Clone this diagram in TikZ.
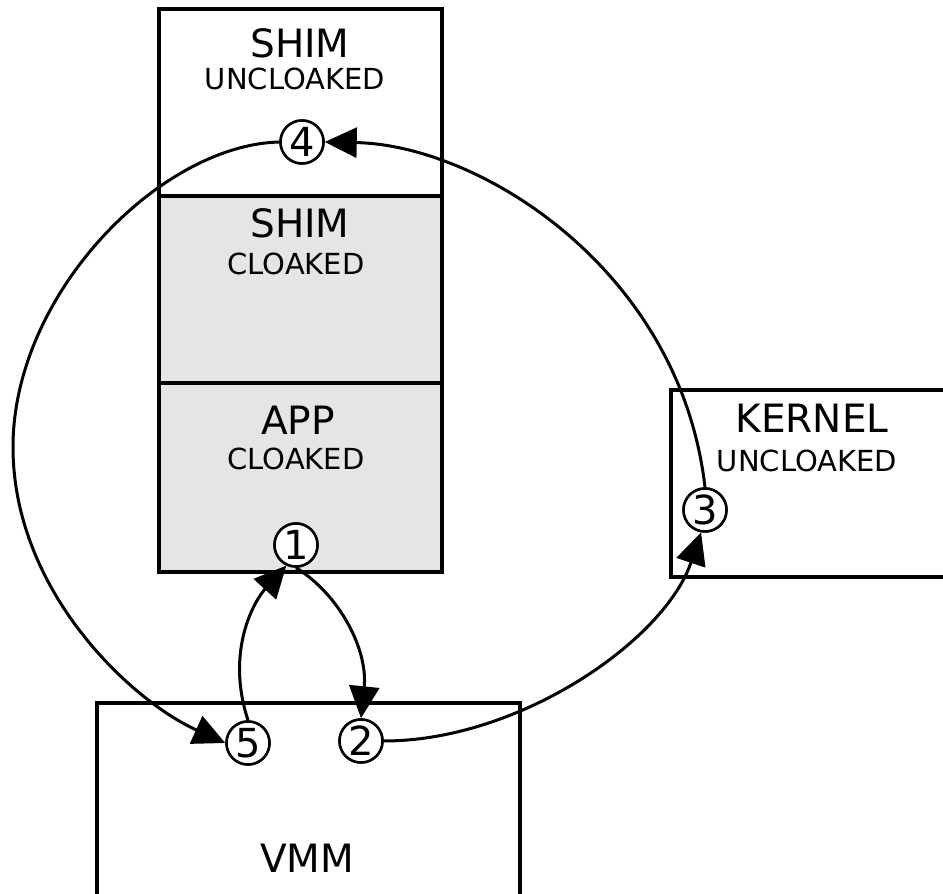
\documentclass[tikz,border=0pt]{standalone}
\usepackage{fontspec}
\setmainfont{DejaVu Sans}
\usetikzlibrary{arrows.meta}
\definecolor{cloak}{HTML}{E5E5E5}
\begin{document}
\begin{tikzpicture}[x=1pt,y=1pt,
  box/.style={draw=black,line width=3.5pt,rectangle,inner sep=0pt},
  title/.style={anchor=base,inner sep=0pt,font=\fontsize{39}{42}\selectfont},
  sub/.style={anchor=base,inner sep=0pt,font=\fontsize{29}{32}\selectfont},
  num/.style={draw=black,fill=white,circle,line width=2.5pt,minimum size=43pt,inner sep=0pt,font=\fontsize{40}{42}\selectfont},
  flow/.style={line width=3pt,-{Triangle[length=32pt,width=30pt]}},
  line/.style={line width=3pt}]
\useasboundingbox (0,0) rectangle (943,894);
\clip (0,0) rectangle (943,894);
% boxes
\node[box,fill=white,minimum width=283pt,minimum height=187pt] (shimU) at (300.5,791.5) {};
\node[box,fill=cloak,minimum width=283pt,minimum height=187pt] (shimC) at (300.5,604.5) {};
\node[box,fill=cloak,minimum width=283pt,minimum height=189pt] (app) at (300.5,416.5) {};
\node[box,fill=white,minimum width=300pt,minimum height=187pt] (kernel) at (821,410.5) {};
\node[box,fill=white,minimum width=423pt,minimum height=210pt] (vmm) at (308.5,86) {};
% texts
\node[title] (t1) at (300,836) {SHIM};
\node[sub] (s1) at (295,804) {UNCLOAKED};
\node[title] (t2) at (300,656) {SHIM};
\node[sub] (s2) at (296,619) {CLOAKED};
\node[title] (t3) at (298,459) {APP};
\node[sub] (s3) at (296,424) {CLOAKED};
\node[title] (t4) at (812,461) {KERNEL};
\node[sub] (s4) at (807,422) {UNCLOAKED};
\node[title] (t5) at (307,21) {VMM};
% numbered markers
\node[num] (c1) at (296,349) {1};
\node[num] (c2) at (361,153) {2};
\node[num] (c3) at (705,384) {3};
\node[num] (c4) at (302,752) {4};
\node[num] (c5) at (248,151) {5};
\coordinate (w) at (13,447);
% connectors
\draw[flow] (c1.south) .. controls (340,299) and (368,244) .. (c2.north);
\draw[flow] (c5.north) .. controls (225,244) and (255,294) .. (c1.-115);
\draw[flow] (c2.east) .. controls (520,153) and (665,254) .. (c3.-100);
\draw[flow] (c3.north) .. controls (680,624) and (480,749) .. (c4.east);
\draw[line] (c4.west) .. controls (160,749) and (13,600) .. (w);
\draw[flow] (w) .. controls (13,304) and (130,194) .. (c5.west);
% redraw markers on top
\node[num] at (c1) {1};
\node[num] at (c2) {2};
\node[num] at (c3) {3};
\node[num] at (c4) {4};
\node[num] at (c5) {5};
\end{tikzpicture}
\end{document}
